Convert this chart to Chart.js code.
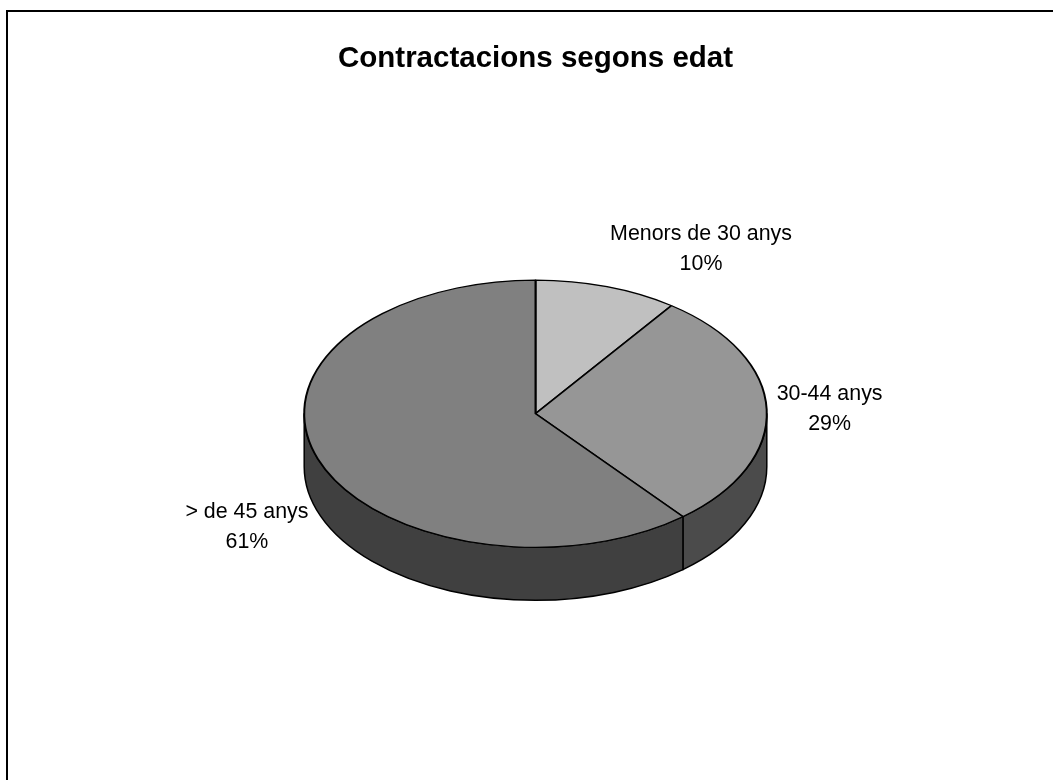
<!DOCTYPE html>
<html>
<head>
<meta charset="utf-8">
<title>Contractacions segons edat</title>
<script src="https://cdn.jsdelivr.net/npm/chart.js@4/dist/chart.umd.min.js"></script>
<style>
    html, body { margin: 0; padding: 0; background: #fff; }
    canvas { display: block; }
</style>
</head>
<body>
<canvas id="myChart" width="1053" height="780"></canvas>
<script>
const labels = ['Menors de 30 anys', '30-44 anys', '> de 45 anys'];
const percentages = [10, 29, 61];

const topColors = ['#c0c0c0', '#969696', '#808080'];
const sideColors = ['#a0a0a0', '#4b4b4b', '#404040'];
const tilt = 134 / 232;   // ellipse height / width
const depth = 53;         // thickness of the 3D disc
const fontFamily = '"Liberation Sans", Arial, sans-serif';

// draws the frame round the whole picture
const frame = {
    id: 'frame',
    beforeDraw(chart) {
        const ctx = chart.ctx;
        ctx.save();
        ctx.fillStyle = '#fff';
        ctx.fillRect(0, 0, chart.width, chart.height);
        ctx.strokeStyle = '#000';
        ctx.lineWidth = 2;
        ctx.strokeRect(7, 11, chart.width + 20, chart.height + 20);
        ctx.restore();
    }
};

// 3D look: side walls, flattened top and outside labels
const pie3d = {
    id: 'pie3d',
    beforeDatasetsDraw(chart) {
        const ctx = chart.ctx;
        const arcs = chart.getDatasetMeta(0).data;
        const cx = arcs[0].x, cy = arcs[0].y;
        const rx = arcs[0].outerRadius, ry = rx * tilt;

        ctx.save();
        ctx.lineWidth = 1.5;
        ctx.strokeStyle = '#000';
        ctx.lineJoin = 'round';
        arcs.forEach((arc, i) => {
            const lo = Math.max(arc.startAngle, 0);
            const hi = Math.min(arc.endAngle, Math.PI);
            if (hi <= lo) return;
            ctx.beginPath();
            ctx.ellipse(cx, cy, rx, ry, 0, lo, hi);
            ctx.ellipse(cx, cy + depth, rx, ry, 0, hi, lo, true);
            ctx.closePath();
            ctx.fillStyle = sideColors[i];
            ctx.fill();
            ctx.stroke();
        });
        ctx.restore();

        ctx.save();
        ctx.translate(cx, cy);
        ctx.scale(1, tilt);
        ctx.translate(-cx, -cy);
    },
    afterDatasetsDraw(chart) {
        const ctx = chart.ctx;
        ctx.restore();

        const arcs = chart.getDatasetMeta(0).data;
        const cx = arcs[0].x, cy = arcs[0].y;
        const rx = arcs[0].outerRadius, ry = rx * tilt;

        ctx.save();
        ctx.font = '21.4px ' + fontFamily;
        ctx.fillStyle = '#000';
        ctx.textAlign = 'center';
        ctx.textBaseline = 'middle';
        arcs.forEach((arc, i) => {
            const mid = (arc.startAngle + arc.endAngle) / 2;
            const c = Math.cos(mid), s = Math.sin(mid);
            const ax = cx + rx * c;
            let ay = cy + ry * s;
            if (s > 0) ay += depth;
            const lines = [labels[i], percentages[i] + '%'];
            const w = Math.max(...lines.map(t => ctx.measureText(t).width));
            const edge = ax + c * 10;
            const mx = c >= 0 ? edge + w / 2 : edge - w / 2;
            const my = ay + s * 41 + 1;
            ctx.fillText(lines[0], mx, my - 15);
            ctx.fillText(lines[1], mx, my + 15);
        });
        ctx.restore();
    }
};

const ctx = document.getElementById('myChart').getContext('2d');
const myChart = new Chart(ctx, {
    type: 'pie',
    data: {
        labels: labels,
        datasets: [{
            data: percentages,
            backgroundColor: topColors,
            borderColor: '#000',
            borderWidth: 2,
            hoverOffset: 0,
            clip: false
        }]
    },
    options: {
        responsive: false,
        animation: false,
        events: [],
        layout: {
            padding: { left: 303, right: 285, top: 0, bottom: 134 }
        },
        plugins: {
            legend: { display: false },
            tooltip: { enabled: false },
            title: {
                display: true,
                text: 'Contractacions segons edat',
                color: '#000',
                font: { family: fontFamily, size: 29.5, weight: 'bold' },
                padding: { top: 41, bottom: 105 }
            }
        }
    },
    plugins: [frame, pie3d]
});
</script>
</body>
</html>
